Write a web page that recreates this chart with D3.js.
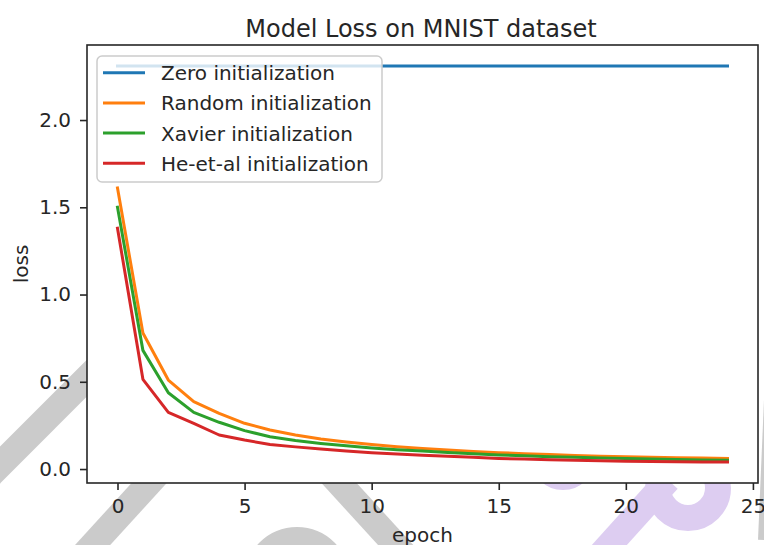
<!DOCTYPE html>
<html>
<head>
<meta charset="utf-8">
<script src="https://cdn.jsdelivr.net/npm/d3@7/dist/d3.min.js"></script>
<style>
  html, body { margin: 0; padding: 0; background: #fff; }
  svg { display: block; font-family: "DejaVu Sans", sans-serif; }
</style>
</head>
<body>
<div id="chart"></div>
<script>
// values
const epochs = [0, 1, 2, 3, 4, 5, 6, 7, 8, 9, 10, 11, 12, 13, 14, 15, 16, 17, 18, 19, 20, 21, 22, 23, 24];
const zeroLoss = [2.31, 2.31, 2.31, 2.31, 2.31, 2.31, 2.31, 2.31, 2.31, 2.31, 2.31, 2.31, 2.31,
  2.31, 2.31, 2.31, 2.31, 2.31, 2.31, 2.31, 2.31, 2.31, 2.31, 2.31, 2.31];
const randomLoss = [1.61, 0.78, 0.51, 0.386, 0.319, 0.262, 0.224, 0.195, 0.172, 0.155, 0.140, 0.128, 0.118,
  0.109, 0.101, 0.094, 0.088, 0.083, 0.078, 0.074, 0.071, 0.068, 0.065, 0.063, 0.061];
const xavierLoss = [1.50, 0.68, 0.437, 0.325, 0.268, 0.220, 0.185, 0.163, 0.147, 0.133, 0.121, 0.111, 0.103,
  0.095, 0.088, 0.081, 0.076, 0.071, 0.067, 0.063, 0.060, 0.057, 0.054, 0.052, 0.050];
const heLoss = [1.38, 0.514, 0.325, 0.262, 0.195, 0.166, 0.141, 0.127, 0.115, 0.103, 0.094, 0.086, 0.079,
  0.073, 0.067, 0.061, 0.057, 0.053, 0.050, 0.047, 0.045, 0.043, 0.042, 0.041, 0.040];
const seriesNames = ["Zero initialization", "Random initialization", "Xavier initialization", "He-et-al initialization"];
const xTicks = [0, 5, 10, 15, 20, 25];
const yTicks = [0.0, 0.5, 1.0, 1.5, 2.0];

const colors = ["#1f77b4", "#ff7f0e", "#2ca02c", "#d62728"];
const allSeries = [zeroLoss, randomLoss, xavierLoss, heLoss];

const W = 764, H = 545;
const box = { left: 87, right: 758, top: 45, bottom: 483 };
const ink = "#262626";

const svg = d3.select("#chart").append("svg").attr("width", W).attr("height", H);

// faint watermark strokes, only visible outside the axes area
const wm = svg.append("g").attr("fill", "none");
const grey = "#cbcbcb", lilac = "#ddcdf1";
[[[-30, 495], [120, 345]], [[68, 572], [172, 458]], [[318, 460], [424, 576]]].forEach((p) => {
  wm.append("path").attr("d", d3.line()(p)).attr("stroke", grey).attr("stroke-width", 26);
});
wm.append("circle").attr("cx", 297).attr("cy", 580).attr("r", 40).attr("stroke", grey).attr("stroke-width", 26);
wm.append("path").attr("d", d3.line()([[772, 400], [766, 540]])).attr("stroke", grey).attr("stroke-width", 16);
wm.append("circle").attr("cx", 563).attr("cy", 458).attr("r", 20).attr("stroke", lilac).attr("stroke-width", 24);
wm.append("circle").attr("cx", 688).attr("cy", 488).attr("r", 30).attr("stroke", lilac).attr("stroke-width", 26);
wm.append("path").attr("d", d3.line()([[594, 562], [668, 480]])).attr("stroke", lilac).attr("stroke-width", 26);

const x = d3.scaleLinear().domain([-1.2, 25.2]).range([box.left, box.right]);
const y = d3.scaleLinear().domain([-0.08, 2.43]).range([box.bottom, box.top]);

svg.append("rect")
  .attr("x", box.left).attr("y", box.top)
  .attr("width", box.right - box.left).attr("height", box.bottom - box.top)
  .attr("fill", "#fff");

const line = d3.line().x((d, i) => x(epochs[i])).y((d) => y(d));

svg.append("g").selectAll("path")
  .data(allSeries)
  .enter()
  .append("path")
  .attr("d", line)
  .attr("fill", "none")
  .attr("stroke", (d, i) => colors[i])
  .attr("stroke-width", 3)
  .attr("stroke-linejoin", "round")
  .attr("stroke-linecap", "square");

// axes
const xAxis = svg.append("g")
  .attr("transform", `translate(0,${box.bottom})`)
  .call(d3.axisBottom(x).tickValues(xTicks).tickSize(7).tickPadding(9).tickSizeOuter(0));
const yAxis = svg.append("g")
  .attr("transform", `translate(${box.left},0)`)
  .call(d3.axisLeft(y).tickValues(yTicks).tickFormat(d3.format(".1f")).tickSize(7).tickPadding(9).tickSizeOuter(0));
[xAxis, yAxis].forEach((a) => {
  a.select(".domain").remove();
  a.selectAll("line").attr("stroke", ink).attr("stroke-width", 1.6);
  a.selectAll("text").attr("fill", ink).attr("font-size", 20).attr("font-family", "DejaVu Sans");
});

svg.append("rect")
  .attr("x", box.left).attr("y", box.top)
  .attr("width", box.right - box.left).attr("height", box.bottom - box.top)
  .attr("fill", "none").attr("stroke", ink).attr("stroke-width", 1.6);

// labels
svg.append("text").attr("x", 421).attr("y", 36.5)
  .attr("text-anchor", "middle").attr("font-size", 24).attr("fill", ink)
  .text("Model Loss on MNIST dataset");
svg.append("text").attr("x", (box.left + box.right) / 2).attr("y", 541.5)
  .attr("text-anchor", "middle").attr("font-size", 20).attr("fill", ink)
  .text("epoch");
svg.append("text").attr("transform", `translate(28,${(box.top + box.bottom) / 2}) rotate(-90)`)
  .attr("text-anchor", "middle").attr("font-size", 20).attr("fill", ink)
  .text("loss");

// legend
const lg = svg.append("g").attr("transform", "translate(97,56)");
lg.append("rect").attr("width", 285).attr("height", 126).attr("rx", 5)
  .attr("fill", "#fff").attr("fill-opacity", 0.8)
  .attr("stroke", "#cccccc").attr("stroke-width", 1.5);
const rows = lg.selectAll(".row")
  .data(seriesNames)
  .enter()
  .append("g")
  .attr("class", "row")
  .attr("transform", (d, i) => `translate(0,${16.7 + i * 30.2})`);
rows.append("line")
  .attr("x1", 6).attr("x2", 48)
  .attr("stroke", (d, i) => colors[i]).attr("stroke-width", 3);
rows.append("text")
  .attr("x", 64).attr("y", 7.5)
  .attr("font-size", 20).attr("fill", ink)
  .text((d) => d);
</script>
</body>
</html>
